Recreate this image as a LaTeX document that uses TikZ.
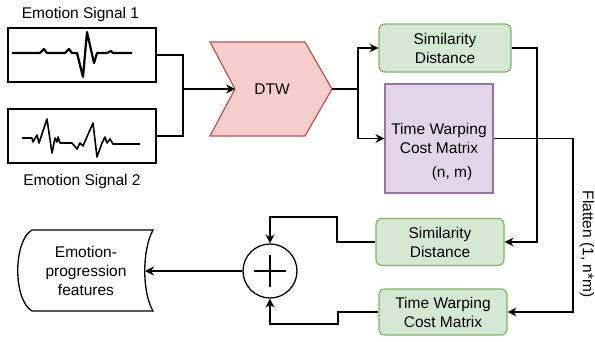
\documentclass[tikz,border=0pt]{standalone}
\usepackage{fontspec}
\setmainfont{Liberation Sans}
\usetikzlibrary{arrows.meta}
\definecolor{gfill}{HTML}{D5E8D4}
\definecolor{gdraw}{HTML}{82B366}
\definecolor{pfill}{HTML}{E1D5E7}
\definecolor{pdraw}{HTML}{9673A6}
\definecolor{rfill}{HTML}{F8CECC}
\definecolor{rdraw}{HTML}{B85450}
\tikzset{
  txt/.style={font=\fontsize{15.5}{19}\selectfont, align=center, inner sep=0pt},
  sigbox/.style={draw=black, line width=1.3pt, minimum width=148pt, minimum height=54pt, inner sep=0pt},
  greenbox/.style={txt, draw=gdraw, fill=gfill, line width=1.2pt, rounded corners=6pt},
  purplebox/.style={draw=pdraw, fill=pfill, line width=1.2pt, minimum width=108pt, minimum height=109pt, inner sep=0pt},
  conn/.style={line width=1.3pt, draw=black},
  arr/.style={conn, -{Stealth[length=9pt,width=9pt,inset=3pt]}},
  wave/.style={line width=2.2pt, line join=round},
}
\begin{document}
\begin{tikzpicture}[x=1pt, y=-1pt]
\useasboundingbox (0,0) rectangle (595,341);

% signal boxes
\node[sigbox] (sig1) at (82,55) {};
\node[sigbox] (sig2) at (82,136) {};
\node[txt, anchor=base] (lab1) at (80.5,18) {Emotion Signal 1};
\node[txt, anchor=base] (lab2) at (82,185) {Emotion Signal 2};

\draw[wave] (12,53) -- (40,53) -- (44,49) -- (47,53) -- (65,53) -- (69,49) -- (72,53) -- (77,53) -- (83,77) -- (87,32) -- (94,63) -- (97,53) -- (107,53) -- (111,51) -- (113,53) -- (132,53);
\draw[wave, line width=1.6pt] (22,138) -- (32,138) -- (33,142) -- (37,135) -- (39,143) -- (47,119) -- (52,153) -- (55,138) -- (57,142) -- (58,137) -- (60,143) -- (72,143) -- (77,149) -- (80,143) -- (83,146) -- (93,123) -- (97,157) -- (102,143) -- (105,137) -- (107,143) -- (110,139) -- (113,144) -- (140,144);

% DTW chevron
\draw[draw=rdraw, fill=rfill, line width=1.2pt] (210,42) -- (305,42) -- (332,89) -- (305,136) -- (210,136) -- (235,89) -- cycle;
\node[txt] (dtw) at (272,89) {DTW};
\coordinate (dtwIn) at (235,89);
\coordinate (dtwOut) at (332,89);

% right column boxes
\node[greenbox, minimum width=132pt, minimum height=48pt] (sim1) at (445,48) {Similarity\\Distance};
\node[purplebox] (twcm) at (439,138.5) {};
\node[txt] (twcmT) at (439,138.5) {Time Warping\\Cost Matrix};
\node[txt] (nm) at (452,173) {(n, m)};
\node[greenbox, minimum width=128pt, minimum height=47pt] (sim2) at (440,242) {Similarity\\Distance};
\node[greenbox, minimum width=128pt, minimum height=46pt] (twcm2) at (443,312) {Time Warping\\Cost Matrix};

% sum circle
\node[draw=black, line width=1.3pt, circle, minimum size=54pt, inner sep=0pt] (circ) at (270,271) {};
\draw[conn] (254,271) -- (286,271);
\draw[conn] (270,255) -- (270,287);

% output data storage shape
\draw[line width=1.3pt] (32,230) -- (153,230) .. controls (142,250) and (142,292) .. (153,311) -- (32,311) .. controls (13,300) and (13,241) .. (32,230) -- cycle;
\node[txt] (feat) at (86,271) {Emotion-\\progression\\features};
\coordinate (featR) at (145,271);

% connectors
\coordinate (j) at (183,89);
\draw[conn] (sig1.east) -| (j);
\draw[conn] (sig2.east) -| (j);
\draw[arr] (j) -- (dtwIn);

\coordinate (split) at (358,89);
\draw[conn] (dtwOut) -- (split);
\draw[arr] (split) |- (sim1.west);
\draw[arr] (split) |- (twcm.west);

\coordinate (r1) at (537,48);
\draw[arr] (sim1.east) -- (r1) |- (sim2.east);

\coordinate (r2) at (573,138.5);
\draw[arr] (twcm.east) -- (r2) |- (twcm2.east);
\node[txt, rotate=-90] (flat) at (587,244) {Flatten (1, n*m)};

\coordinate (b1) at (337,217);
\coordinate (b2) at (338,324);
\draw[arr] (sim2.west) -| (b1) -| (circ.north);
\draw[arr] (twcm2.west) -| (b2) -| (circ.south);
\draw[arr] (circ.west) -- (featR);
\end{tikzpicture}
\end{document}
